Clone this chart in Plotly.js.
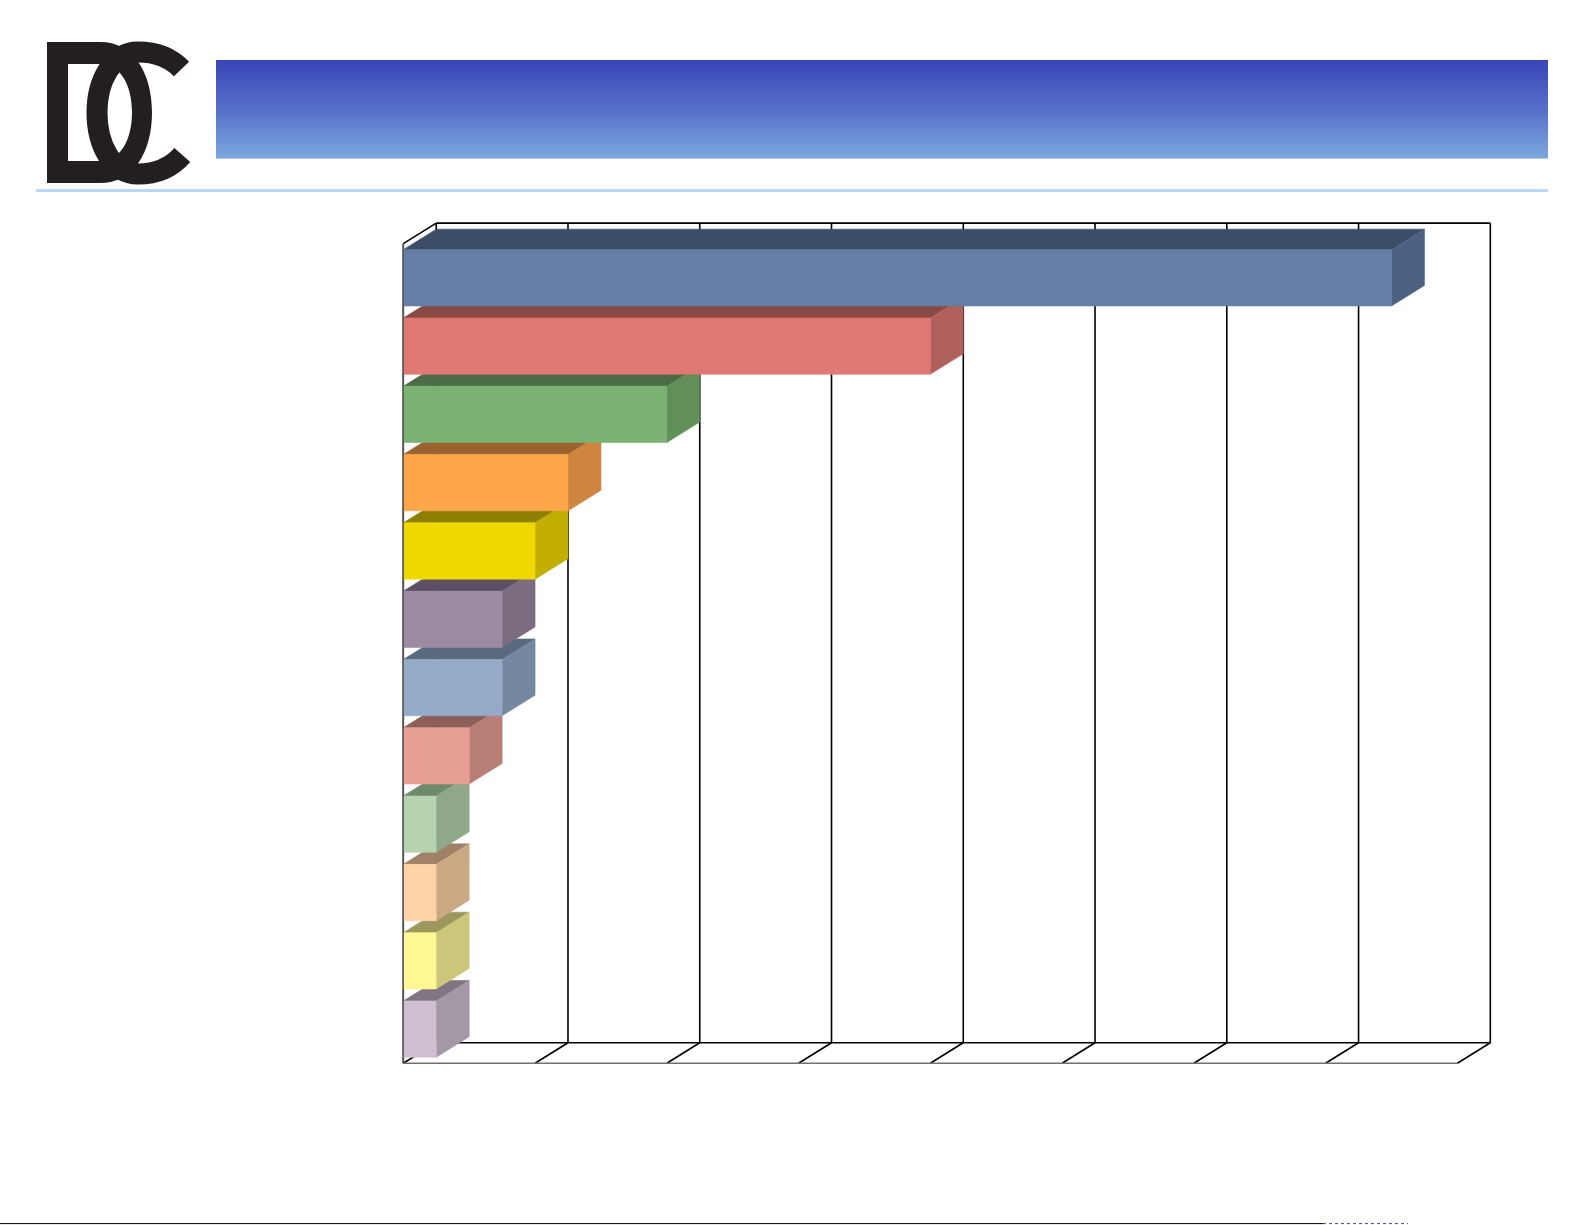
<!DOCTYPE html>
<html>
<head>
<meta charset="utf-8">
<script src="https://cdn.plot.ly/plotly-3.0.1.min.js"></script>
<style>
html,body{margin:0;padding:0;background:#ffffff;}
#chart{width:1585px;height:1225px;}
</style>
</head>
<body>
<div id="chart"></div>
<script>
// ---------------- DATA ----------------
const categories = ['1','2','3','4','5','6','7','8','9','10','11','12'];
const values = [30, 16, 8, 5, 4, 3, 3, 2, 1, 1, 1, 1];
const frontColors = ['#647EA6','#E07873','#7BB273','#FFA64A','#EFD700','#9D8AA3','#95ABC8','#E79F95','#B5D4AF','#FFD4A6','#FFF694','#D0BFD1'];
const topColors   = ['#3C4D66','#8A4A47','#4B6B46','#9A632F','#8F7F00','#5E5064','#596A80','#8E5E58','#6F8A6B','#9E8166','#9B975D','#807580'];
const sideColors  = ['#4D6283','#B0615E','#608F58','#CD853F','#C1AE00','#7B6C80','#7588A0','#B97E76','#8FA88A','#CCA984','#CCC67A','#A498A6'];
const gridValues = [0, 4, 8, 12, 16, 20, 24, 28, 32];

// ---------------- GEOMETRY (style / placement) ----------------
const W = 1585, H = 1225;
const X0 = 403.3, KX = 32.94;   // pixel of value 0 on the front plane, px per unit
const Y0 = 277.8, KY = 68.3;    // pixel of first category centre, px per category
const DX = 1, DY = 0.3, HALF = 0.412;  // 3-D depth offsets and half bar thickness
const xr = [-0.5, 33.5], yr = [12, -1.2];
const xpx = v => X0 + v * KX, ypx = v => Y0 + v * KY;

const n = categories.length;
const yFrontTop = -0.5, yFrontBot = n - 0.5;
const yBackTop = yFrontTop - DY, yBackBot = yFrontBot - DY;
const gMax = gridValues[gridValues.length - 1];

const traces = [];
const skip = 'skip';

// back wall + floor lines
let gx = [], gy = [];
gridValues.forEach(g => {
  gx.push(g + DX, g + DX, null); gy.push(yBackTop, yBackBot, null);      // vertical gridline on back wall
  gx.push(g, g + DX, null); gy.push(yFrontBot, yBackBot, null);           // floor diagonal
});
gx.push(DX, gMax + DX, null); gy.push(yBackTop, yBackTop, null);
gx.push(DX, gMax + DX, null); gy.push(yBackBot, yBackBot, null);
gx.push(0, DX, null); gy.push(yFrontTop, yBackTop, null);                  // left wall top diagonal
gx.push(0, 0); gy.push(yFrontTop, yFrontBot);                              // left wall front edge
traces.push({type:'scatter', mode:'lines', x:gx, y:gy, line:{color:'#000000', width:1.6}, hoverinfo:skip, showlegend:false});
traces.push({type:'scatter', mode:'lines', x:[0, gMax], y:[yFrontBot, yFrontBot], line:{color:'#707070', width:1.6}, hoverinfo:skip, showlegend:false});

// bars (drawn bottom first so that upper bars overlap)
for (let i = n - 1; i >= 0; i--) {
  const v = values[i], c = i, t = c - HALF, b = c + HALF;
  const face = (x, y, col) => ({
    type:'scatter', mode:'lines', x:x, y:y, fill:'toself', fillcolor:col,
    line:{color:col, width:0.6}, hoverinfo:skip, showlegend:false, name:categories[i]
  });
  traces.push(face([0, DX, v + DX, v, 0], [t, t - DY, t - DY, t, t], topColors[i]));
  traces.push(face([v, v + DX, v + DX, v, v], [t, t - DY, b - DY, b, t], sideColors[i]));
  traces.push(face([0, v, v, 0, 0], [t, t, b, b, t], frontColors[i]));
}
// thin grey left axis on top
traces.push({type:'scatter', mode:'lines', x:[0,0], y:[yFrontTop, yFrontBot], line:{color:'#5a5a5a', width:1.2}, hoverinfo:skip, showlegend:false});

// header gradient banner
traces.push({type:'scatter', mode:'lines', x:[0,1,1,0,0], y:[0,0,1,1,0], xaxis:'x2', yaxis:'y2',
  fill:'toself', line:{width:0, color:'rgba(0,0,0,0)'}, hoverinfo:skip, showlegend:false,
  fillgradient:{type:'vertical', colorscale:[[0,'#7CA7DD'],[0.5,'#5670C8'],[1,'#3944B9']]}});

// ---------------- LOGO (paper coordinates from pixels) ----------------
function pathOf(segs){
  let out = '', i = 0;
  const np = {M:2, L:2, C:6};
  while (i < segs.length) {
    const s = segs[i++];
    if (s === 'Z') { out += 'Z '; continue; }
    const k = np[s]; const pts = [];
    for (let j = 0; j < k; j += 2) pts.push((segs[i+j]/W).toFixed(5) + ',' + (1 - segs[i+j+1]/H).toFixed(5));
    out += s + pts.join(' ') + ' ';
    i += k;
  }
  return out;
}
const dPath = pathOf(['M',47,42,'L',100,42,'C',133,42,152,72,152,112.5,'C',152,153,133,183,100,183,'L',47,183,'Z',
                      'M',68,64,'L',68,161,'L',100,161,'C',121,161,132,139,132,112.5,'C',132,86,121,64,100,64,'Z']);
const cPath = pathOf(['M',181.5,69,'C',170,57,155,52,138,52,'C',113,52,97,80,97,112.5,'C',97,146,113,174,138,174,'C',155,174,171,168,182.3,155]);

const shapes = [
  {type:'path', xref:'paper', yref:'paper', path:dPath, fillcolor:'#231F20', fillrule:'evenodd', line:{width:0}, layer:'above'},
  {type:'path', xref:'paper', yref:'paper', path:cPath, fillcolor:'rgba(0,0,0,0)', line:{color:'#231F20', width:21}, layer:'above'},
  {type:'line', xref:'paper', yref:'paper', x0:36/W, x1:1548/W, y0:1-190.5/H, y1:1-190.5/H, line:{color:'#BBD6F6', width:3}},
  {type:'line', xref:'paper', yref:'paper', x0:0, x1:1323/W, y0:1-1223.6/H, y1:1-1223.6/H, line:{color:'#000000', width:1}},
  {type:'line', xref:'paper', yref:'paper', x0:1323/W, x1:1408/W, y0:1-1223.6/H, y1:1-1223.6/H, line:{color:'#3b4f8a', width:1, dash:'dot'}}
];

const hidden = {visible:false, showgrid:false, zeroline:false, showticklabels:false, fixedrange:true};
const layout = {
  width:W, height:H,
  margin:{l:0, r:0, t:0, b:0, pad:0},
  paper_bgcolor:'#ffffff', plot_bgcolor:'rgba(0,0,0,0)',
  showlegend:false,
  xaxis:Object.assign({}, hidden, {range:xr, domain:[xpx(xr[0])/W, xpx(xr[1])/W]}),
  yaxis:Object.assign({}, hidden, {range:yr, domain:[1 - ypx(yr[0])/H, 1 - ypx(yr[1])/H]}),
  xaxis2:Object.assign({}, hidden, {range:[0,1], domain:[216/W, 1548/W], anchor:'y2'}),
  yaxis2:Object.assign({}, hidden, {range:[0,1], domain:[1 - 158.7/H, 1 - 60/H], anchor:'x2'}),
  shapes:shapes
};

Plotly.newPlot('chart', traces, layout, {staticPlot:true, displayModeBar:false});
</script>
</body>
</html>
